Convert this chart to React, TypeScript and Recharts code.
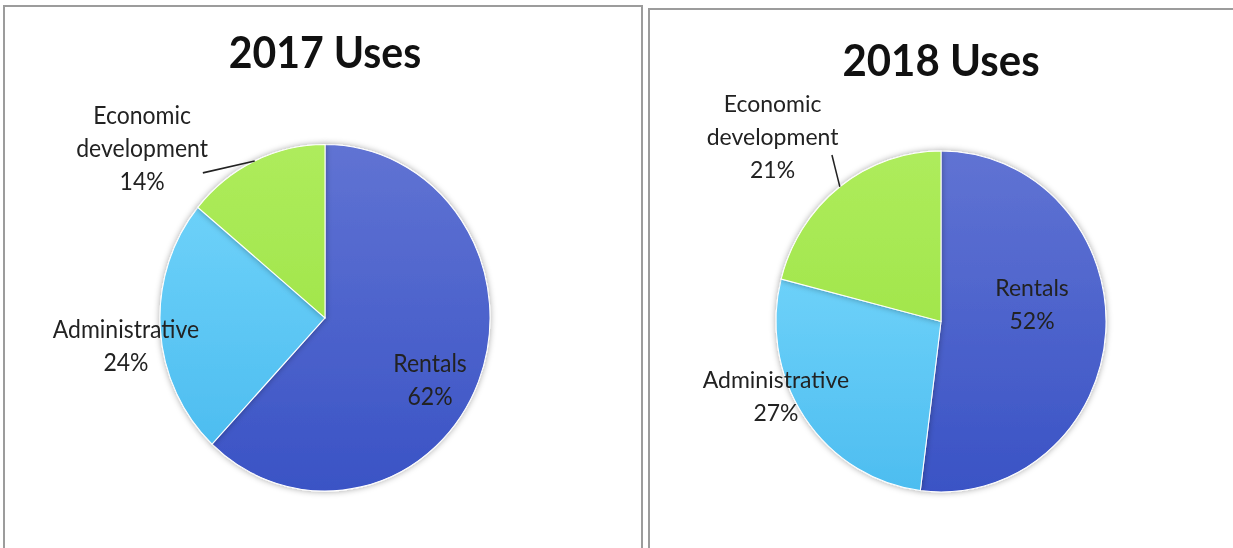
import { PieChart, Pie, Cell } from 'recharts';

const categories = ['Rentals', 'Administrative', 'Economic development'];
const uses2017 = [62, 24, 14];
const uses2018 = [52, 27, 21];

const FONT = 'Lato, "Open Sans", sans-serif';

// label placement around the pie: angle in degrees, distance as a share of the radius
type Placement = { angle: number; dist: number; lineTo?: { angle: number; dist: number } };

const PLACE_2017: Record<string, Placement> = {
  Rentals: { angle: -29.3, dist: 0.73 },
  Administrative: { angle: 187.6, dist: 1.217 },
  'Economic development': { angle: 138.5, dist: 1.48, lineTo: { angle: 131.5, dist: 1.117 } },
};

const PLACE_2018: Record<string, Placement> = {
  Rentals: { angle: 10.9, dist: 0.562 },
  Administrative: { angle: 203.3, dist: 1.089 },
  'Economic development': { angle: 133.1, dist: 1.494, lineTo: { angle: 124.1, dist: 1.179 } },
};

const FILLS = ['url(#gradRentals)', 'url(#gradAdmin)', 'url(#gradEcon)'];

const RAD = Math.PI / 180;

function makeLabel(place: Record<string, Placement>, lh: number) {
  return (props: any) => {
    const { cx, cy, midAngle, outerRadius, percent, name } = props;
    const p = place[name];
    if (!p) return null;
    const x = cx + outerRadius * p.dist * Math.cos(p.angle * RAD);
    const y = cy - outerRadius * p.dist * Math.sin(p.angle * RAD);
    const words = name === 'Economic development' ? ['Economic', 'development'] : [name];
    const lines = [...words, `${Math.round(percent * 100)}%`];
    let line = null;
    if (p.lineTo) {
      const sx = cx + outerRadius * Math.cos(midAngle * RAD);
      const sy = cy - outerRadius * Math.sin(midAngle * RAD);
      const ex = cx + outerRadius * p.lineTo.dist * Math.cos(p.lineTo.angle * RAD);
      const ey = cy - outerRadius * p.lineTo.dist * Math.sin(p.lineTo.angle * RAD);
      line = <line x1={sx} y1={sy} x2={ex} y2={ey} stroke="#222" strokeWidth={1.5} />;
    }
    return (
      <g>
        {line}
        <text x={x} y={y} textAnchor="middle" fill="#222" fontSize={23} fontFamily={FONT}>
          {lines.map((t, i) => (
            <tspan key={i} x={x} y={y + (i - (lines.length - 1) / 2) * lh} dominantBaseline="central">
              {t}
            </tspan>
          ))}
        </text>
      </g>
    );
  };
}

function Defs() {
  return (
    <defs>
      <linearGradient id="gradRentals" x1="0" y1="0" x2="0" y2="1">
        <stop offset="0%" stopColor="#6073d3" />
        <stop offset="100%" stopColor="#3a53c5" />
      </linearGradient>
      <linearGradient id="gradAdmin" x1="0" y1="0" x2="0" y2="1">
        <stop offset="0%" stopColor="#6dd1f9" />
        <stop offset="100%" stopColor="#4dbdf0" />
      </linearGradient>
      <linearGradient id="gradEcon" x1="0" y1="0" x2="0" y2="1">
        <stop offset="0%" stopColor="#aeec5c" />
        <stop offset="100%" stopColor="#a2e64c" />
      </linearGradient>
      <filter id="pieShadow" x="-20%" y="-20%" width="140%" height="140%">
        <feDropShadow dx="0" dy="0" stdDeviation="3" floodColor="#000" floodOpacity="0.35" />
      </filter>
    </defs>
  );
}

// the source picture is stretched a little vertically, so each chart is scaled on y
function UsesPie({ title, values, place, width, height, cx, cy, r, titleY, titleSize, stretch }: any) {
  const data = categories.map((name, i) => ({ name, value: values[i] }));
  return (
    <div style={{ transform: `scaleY(${stretch})`, transformOrigin: '0 0', width, height }}>
      <PieChart width={width} height={height} margin={{ top: 0, right: 0, bottom: 0, left: 0 }}>
        <Defs />
        <text x={cx} y={titleY} textAnchor="middle" fontFamily={FONT} fontWeight={700} fontSize={titleSize} fill="#111">
          {title}
        </text>
        <Pie
          data={data}
          dataKey="value"
          nameKey="name"
          cx={cx}
          cy={cy}
          outerRadius={r}
          startAngle={90}
          endAngle={-270}
          stroke="#ffffff"
          strokeWidth={1}
          labelLine={false}
          label={makeLabel(place, 33 / stretch)}
          isAnimationActive={false}
          style={{ filter: 'url(#pieShadow)' }}
        >
          {data.map((entry, index) => (
            <Cell key={`cell-${index}`} fill={FILLS[index % FILLS.length]} />
          ))}
        </Pie>
      </PieChart>
    </div>
  );
}

export default function App() {
  return (
    <div style={{ position: 'absolute', left: 0, top: 0, width: 1233, height: 548, overflow: 'hidden', background: '#fff' }}>
      <div style={{ position: 'absolute', left: 3, top: 5, width: 636, height: 560, border: '2px solid #9c9c9c', overflow: 'hidden' }}>
        <UsesPie title="2017 Uses" values={uses2017} place={PLACE_2017} width={636} height={520} cx={320} cy={296} r={165} titleY={58} titleSize={41} stretch={1.05} />
      </div>
      <div style={{ position: 'absolute', left: 648, top: 8, width: 600, height: 560, border: '2px solid #9c9c9c', overflow: 'hidden' }}>
        <UsesPie title="2018 Uses" values={uses2018} place={PLACE_2018} width={600} height={525} cx={291} cy={301.5} r={165} titleY={64} titleSize={42} stretch={1.033} />
      </div>
    </div>
  );
}
